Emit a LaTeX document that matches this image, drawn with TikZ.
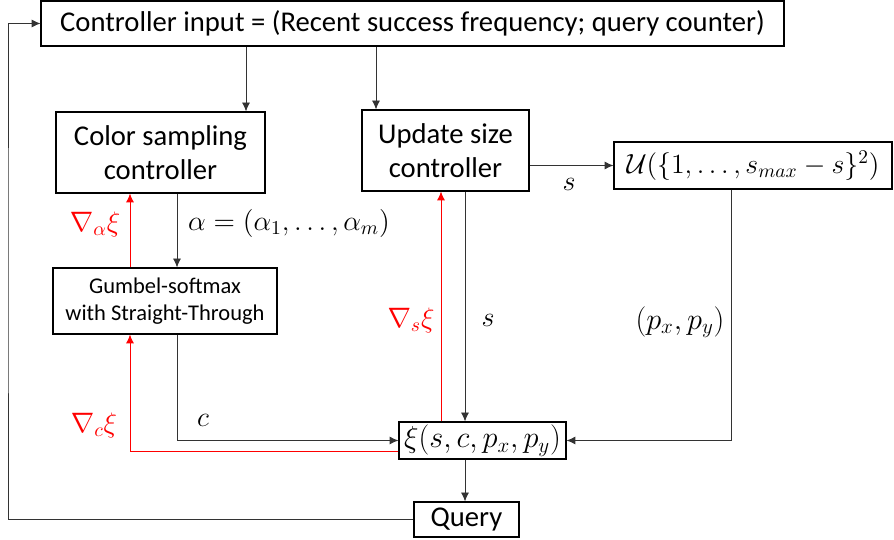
\RequirePackage{fix-cm}
\documentclass[tikz,border=0pt]{standalone}
\usepackage{amsmath, amssymb}
\usepackage[no-math]{fontspec}
\setmainfont{Carlito}
\usetikzlibrary{positioning, arrows.meta}

\begin{document}
\begin{tikzpicture}[x=0.02cm, y=-0.02cm,
        box/.style={draw, line width=0.7pt, inner sep=0pt, align=center, font=\fontsize{16.3}{19.5}\selectfont},
        mbox/.style={box, font=\fontsize{17.28}{20}\selectfont},
        arr/.style={-{Latex[length=5pt, width=4.5pt]}, draw=black!80, line width=0.45pt},
        grad/.style={-{Latex[length=5pt, width=4.5pt]}, draw=red, line width=0.45pt},
        lbl/.style={font=\fontsize{16}{19}\selectfont},
        glbl/.style={lbl, text=red}]
        \useasboundingbox (0,0) rectangle (894,540);

        % boxes
        \node[box, minimum width=14.86cm, minimum height=0.9cm] (top) at (412.5,23.5) {Controller input = (Recent success frequency; query counter)};
        \node[box, minimum width=4.18cm, minimum height=1.62cm] (color) at (160.5,152.5) {Color sampling\\controller};
        \node[box, minimum width=3.34cm, minimum height=1.62cm] (update) at (445.5,150.5) {Update size\\controller};
        \node[mbox, minimum width=5.56cm, minimum height=0.94cm, font=\fontsize{15.8}{19}\selectfont] (ubox) at (753,165.5) {$\mathcal{U}(\{1,\ldots,s_{max}-s\}^2)$};
        \node[box, minimum width=4.48cm, minimum height=1.32cm, font=\fontsize{12.8}{15.3}\selectfont] (gumbel) at (165,301) {Gumbel-softmax\\with Straight-Through};
        \node[mbox, minimum width=3.34cm, minimum height=0.74cm] (xi) at (482.5,440.5) {$\xi(s,c,p_x,p_y)$};
        \node[box, minimum width=2.1cm, minimum height=0.7cm] (query) at (466.5,519.5) {Query};

        % columns and rows for the connectors
        \coordinate (cA) at (246,0);
        \coordinate (cB) at (376,0);
        \coordinate (cC) at (177,0);
        \coordinate (cD) at (130,0);
        \coordinate (cE) at (441,0);
        \coordinate (cF) at (465,0);
        \coordinate (cG) at (731,0);
        \coordinate (rR) at (0,451);
        \coordinate (fb) at (8,270);

        % forward
        \draw[arr] (top.south -| cA) -- (color.north -| cA);
        \draw[arr] (top.south -| cB) -- (update.north -| cB);
        \draw[arr] (update.east |- ubox.west) -- (ubox.west);
        \draw[arr] (color.south -| cC) -- (gumbel.north -| cC);
        \draw[arr] (gumbel.south -| cC) |- (xi.west);
        \draw[arr] (update.south -| cF) -- (xi.north -| cF);
        \draw[arr] (ubox.south -| cG) |- (xi.east);
        \draw[arr] (xi.south -| cF) -- (query.north -| cF);
        \draw[arr] (query.west) -| (fb) |- (top.west);

        % gradients
        \draw[grad] (gumbel.north -| cD) -- (color.south -| cD);
        \draw[grad] (xi.west |- rR) -| (gumbel.south -| cD);
        \draw[grad] (xi.north -| cE) -- (update.south -| cE);

        % labels
        \node[lbl] (alab) at (289,223.5) {$\alpha=(\alpha_1,\ldots,\alpha_m)$};
        \node[glbl] (galab) at (95,224) {$\nabla_{\alpha}\xi$};
        \node[lbl] (slab) at (569,184) {$s$};
        \node[glbl] (gslab) at (411,320) {$\nabla_{s}\xi$};
        \node[lbl] (sdown) at (488,320) {$s$};
        \node[lbl, font=\fontsize{17.28}{20}\selectfont] (plab) at (680,322) {$(p_x,p_y)$};
        \node[glbl] (gclab) at (94,425) {$\nabla_{c}\xi$};
        \node[lbl] (clab) at (203,420) {$c$};
    \end{tikzpicture}
\end{document}
